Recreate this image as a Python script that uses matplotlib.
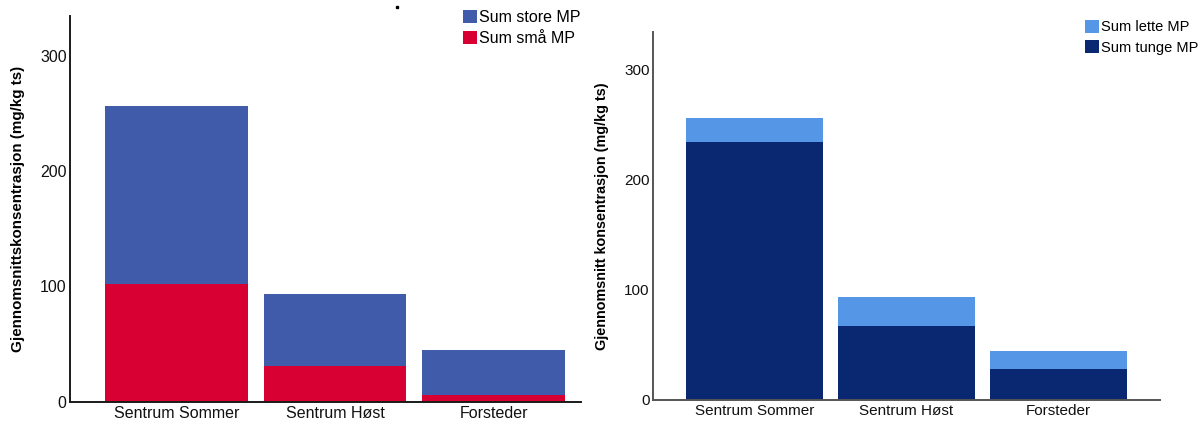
import matplotlib
matplotlib.use("Agg")
import matplotlib.pyplot as plt
from matplotlib.lines import Line2D
import numpy as np

plt.rcParams['font.family'] = ['Liberation Sans', 'DejaVu Sans']

categories = ["Sentrum Sommer", "Sentrum Høst", "Forsteder"]
sma_mp = [102, 31, 6]
store_mp = [154.5, 62.4, 38.8]
tunge_mp = [234, 67, 28]
lette_mp = [22, 26, 16]
yticks = [0, 100, 200, 300]

c_store = "#3F5BAA"
c_sma = "#D80032"
c_lette = "#5596E6"
c_tunge = "#0A2771"

W, H = 1204, 421
fig = plt.figure(figsize=(W / 100, H / 100), dpi=100)
ax1 = fig.add_axes([70.3 / W, 1 - 401.7 / H, (580.5 - 70.3) / W, (401.7 - 16) / H])
ax2 = fig.add_axes([653.3 / W, 1 - 399.7 / H, (1159.7 - 653.3) / W, (399.7 - 32) / H])

x = np.arange(len(categories))

ax1.bar(x, sma_mp, width=0.9, color=c_sma, label="Sum små MP")
ax1.bar(x, store_mp, bottom=sma_mp, width=0.9, color=c_store, label="Sum store MP")
ax1.set_xlim(-0.667, 2.546)
ax1.set_ylim(0, 334.5)

ax2.bar(x, tunge_mp, width=0.9, color=c_tunge, label="Sum tunge MP")
ax2.bar(x, lette_mp, bottom=tunge_mp, width=0.9, color=c_lette, label="Sum lette MP")
ax2.set_xlim(-0.664, 2.666)
ax2.set_ylim(0, 333.6)

for ax, ylab, sc, tfs, lfs in [
        (ax1, "Gjennomsnittskonsentrasjon (mg/kg ts)", "#1a1a1a", 11.5, 10.9),
        (ax2, "Gjennomsnitt konsentrasjon (mg/kg ts)", "#555555", 11.0, 10.4)]:
    ax.set_xticks(x)
    ax.set_xticklabels(categories, fontsize=tfs, color="#111111")
    ax.set_yticks(yticks)
    ax.set_yticklabels([str(t) for t in yticks], fontsize=tfs, color="#111111")
    ax.tick_params(axis="y", length=0, pad=2.6)
    ax.tick_params(axis="x", length=0, pad=3.3)
    for s in ["top", "right"]:
        ax.spines[s].set_visible(False)
    for s in ["left", "bottom"]:
        ax.spines[s].set_color(sc)
        ax.spines[s].set_linewidth(1.4)
    ax.set_ylabel(ylab, fontsize=lfs, fontweight="bold", labelpad=11)

h1, l1 = ax1.get_legend_handles_labels()
fig.legend(h1[::-1], l1[::-1], loc="upper left", fontsize=11.5,
           frameon=False, borderpad=0, handlelength=0.875, handleheight=0.875,
           handletextpad=0.15, labelspacing=0.4, borderaxespad=0,
           bbox_to_anchor=(463 / W, 1 - 10 / H))
h2, l2 = ax2.get_legend_handles_labels()
fig.legend(h2[::-1], l2[::-1], loc="upper left", fontsize=10.5,
           frameon=False, borderpad=0, handlelength=0.96, handleheight=0.96,
           handletextpad=0.17, labelspacing=0.4, borderaxespad=0,
           bbox_to_anchor=(1085 / W, 1 - 20 / H))

# small stray dot present in the reference
fig.add_artist(Line2D([397 / W], [1 - 7 / H], marker="s", markersize=1.6,
                      color="black", linestyle="none", transform=fig.transFigure))

fig.savefig("out.png", dpi=100)
